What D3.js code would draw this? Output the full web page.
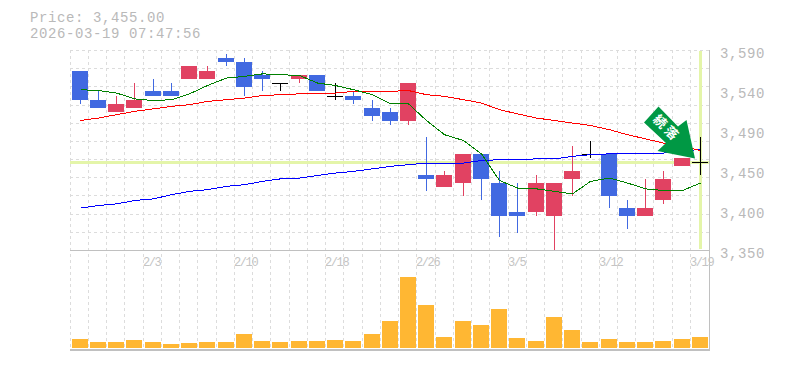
<!DOCTYPE html>
<html>
<head>
<meta charset="utf-8">
<script src="https://cdn.jsdelivr.net/npm/d3@7"></script>
<style>
  body { margin: 0; background: #fff; }
  text { font-family: "Liberation Mono", monospace; fill: #b9b9b9; }
</style>
</head>
<body>
<div id="chart"></div>
<script>
const dates = ["1/27","1/28","1/29","1/30","2/3","2/4","2/5","2/6","2/9","2/10","2/12","2/13","2/16","2/17","2/18","2/19","2/20","2/24","2/25","2/26","2/27","3/2","3/3","3/4","3/5","3/6","3/9","3/10","3/11","3/12","3/13","3/16","3/17","3/18","3/19"];
const tickDates = ["2/3","2/10","2/18","2/26","3/5","3/12","3/19"];

const open  = [3565,3530,3515,3520,3540,3540,3555,3555,3580,3575,3560,3550,3555,3560,3535,3535,3520,3515,3505,3440,3425,3430,3465,3430,3395,3395,3390,3435,3465,3465,3400,3390,3410,3450,3455];
const close = [3530,3520,3525,3530,3535,3535,3570,3565,3575,3545,3555,3550,3560,3540,3535,3530,3510,3505,3550,3435,3440,3465,3435,3390,3390,3430,3430,3445,3465,3415,3390,3400,3435,3460,3455];
const high  = [3565,3540,3535,3550,3555,3550,3570,3570,3585,3580,3565,3550,3560,3560,3550,3540,3530,3520,3550,3485,3445,3465,3465,3445,3430,3440,3430,3475,3480,3465,3410,3435,3445,3460,3485];
const low   = [3525,3520,3515,3520,3535,3535,3555,3555,3570,3535,3540,3540,3550,3540,3530,3525,3505,3500,3500,3420,3425,3415,3410,3365,3370,3390,3350,3415,3460,3400,3375,3390,3405,3450,3440];
const volume = [9,6,6,8,6,4,5,6,6,14,7,6,7,7,8,7,14,27,71,43,11,27,23,39,10,7,31,18,6,9,6,6,7,9,11];

const maShort = [3542,3541,3538,3531,3529,3530,3537,3547,3556,3558,3561,3560,3559,3550,3547,3542,3536,3525,3525,3505,3488,3481,3465,3433,3424,3423,3420,3417,3432,3436,3430,3423,3421,3421,3430];
const maMid   = [3505,3508,3512,3516,3519,3522,3524,3528,3530,3532,3535,3536,3537,3537,3538,3540,3540,3540,3541,3536,3534,3530,3526,3518,3513,3508,3505,3502,3499,3494,3488,3483,3478,3474,3469];
const maLong  = [3400,3403,3405,3409,3411,3416,3420,3422,3426,3428,3432,3435,3436,3439,3442,3444,3447,3450,3452,3454,3454,3454,3457,3458,3458,3459,3459,3462,3464,3465,3466,3466,3466,3469,3470];

const priceTicks = [3350,3398,3446,3494,3542,3590];
const priceLabels = ["3,350","3,400","3,450","3,490","3,540","3,590"];
const gridPrices = [3350,3371.8,3393.6,3415.5,3437.3,3459.1,3480.9,3502.7,3524.5,3546.4,3568.2,3590];
const currentPrice = 3455;

const width = 785, height = 370;
const svg = d3.select("#chart").append("svg")
    .attr("width", width)
    .attr("height", height)
    .style("display", "block");

const x = d3.scaleBand().domain(dates).range([70.5, 709]);
const y = d3.scaleLinear().domain([3350, 3590]).range([249.7, 49.7]);
const yVol = d3.scaleLinear().domain([0, 88]).range([348, 260]);
const cx = d => Math.round(x(d) + x.bandwidth() / 2) + 0.5;
const gx = d => Math.round(x(d) - 0.8) + 0.5;

// Title
svg.append("text").attr("x", 30).attr("y", 22).attr("font-size", 14).attr("letter-spacing", 0.6).text("Price: 3,455.00");
svg.append("text").attr("x", 30).attr("y", 38).attr("font-size", 14).attr("letter-spacing", 0.6).text("2026-03-19 07:47:56");

// Grid
const grid = svg.append("g")
    .attr("stroke", "#dcdcdc")
    .attr("stroke-dasharray", "3,3")
    .attr("shape-rendering", "crispEdges");
grid.selectAll("line.v").data(dates).join("line")
    .attr("class", "v")
    .attr("x1", gx).attr("x2", gx)
    .attr("y1", 50).attr("y2", 350);
grid.selectAll("line.h").data(gridPrices).join("line")
    .attr("class", "h")
    .attr("x1", 70).attr("x2", 709)
    .attr("y1", d => y(d) + 0.8).attr("y2", d => y(d) + 0.8);

// Current price and current date highlight
const hl = svg.append("g").attr("stroke", "#e4f5a9").attr("stroke-width", 3).attr("shape-rendering", "crispEdges");
hl.append("line").attr("x1", 70).attr("x2", 709).attr("y1", y(currentPrice)).attr("y2", y(currentPrice));
hl.append("line").attr("x1", cx(dates[34])).attr("x2", cx(dates[34])).attr("y1", 51).attr("y2", 249);

// Frame
const frame = svg.append("g").attr("stroke", "#c0c0c0").attr("shape-rendering", "crispEdges");
frame.append("line").attr("x1", 70).attr("x2", 710).attr("y1", 250.5).attr("y2", 250.5);
frame.append("line").attr("x1", 70).attr("x2", 710).attr("y1", 350).attr("y2", 350).attr("stroke-width", 2);
frame.append("line").attr("x1", 709.5).attr("x2", 709.5).attr("y1", 50).attr("y2", 351);

// Price axis
const yAxis = d3.axisRight(y).tickValues(priceTicks).tickSize(0).tickPadding(0)
    .tickFormat((d, i) => priceLabels[i]);
svg.append("g").attr("transform", "translate(720,3)").call(yAxis)
    .call(g => g.select(".domain").remove())
    .selectAll("text")
    .attr("font-size", 14).attr("letter-spacing", 0.6)
    .attr("font-family", "Liberation Mono");

// Date labels
svg.selectAll("text.date").data(tickDates).join("text")
    .attr("class", "date")
    .attr("x", d => gx(d) - 0.5)
    .attr("y", 266)
    .attr("font-size", 12)
    .attr("letter-spacing", -1.4)
    .style("fill", "#c4c4c4")
    .text(d => d);

// Volume
svg.append("g").attr("fill", "#ffb733").attr("shape-rendering", "crispEdges")
    .selectAll("rect").data(dates).join("rect")
    .attr("x", d => cx(d) - 8.5)
    .attr("width", 16)
    .attr("y", (d, i) => yVol(volume[i]))
    .attr("height", (d, i) => yVol(0) - yVol(volume[i]));

// Candles
const colorOf = i => close[i] > open[i] ? "#e14262" : close[i] < open[i] ? "#4169e1" : "#000";
const candles = svg.append("g").attr("shape-rendering", "crispEdges");
candles.selectAll("line.wick").data(dates).join("line")
    .attr("class", "wick")
    .attr("x1", cx).attr("x2", cx)
    .attr("y1", (d, i) => y(high[i]))
    .attr("y2", (d, i) => y(low[i]))
    .attr("stroke", (d, i) => colorOf(i));
candles.selectAll("rect.body").data(dates).join("rect")
    .attr("class", "body")
    .attr("x", d => cx(d) - 8.5)
    .attr("width", 16)
    .attr("y", (d, i) => y(Math.max(open[i], close[i])))
    .attr("height", (d, i) => Math.max(1, y(Math.min(open[i], close[i])) - y(Math.max(open[i], close[i]))))
    .attr("fill", (d, i) => colorOf(i));

// Moving averages
const line = d3.line().x(d => cx(d[0])).y(d => y(d[1]));
[[maLong, "#0000ff"], [maMid, "#ff0000"], [maShort, "#008000"]].forEach(([values, color]) => {
    svg.append("path")
        .datum(dates.map((d, i) => [d, values[i]]))
        .attr("fill", "none")
        .attr("stroke", color)
        .attr("stroke-width", 1)
        .attr("shape-rendering", "crispEdges")
        .attr("d", line);
});

// Signal arrow
const arrow = svg.append("g");
arrow.append("path")
    .attr("d", "M658.5,106.5 L644,122.5 L666,143 L657.5,151 L695,158.5 L686.5,120 L678,126.5 Z")
    .attr("fill", "#009844");
arrow.append("text")
    .attr("transform", "translate(666,129) rotate(45)")
    .attr("font-weight", "bold")
    .attr("font-size", 13)
    .attr("letter-spacing", 3)
    .attr("text-anchor", "middle")
    .attr("dominant-baseline", "middle")
    .style("font-family", "'Noto Sans CJK JP'")
    .style("fill", "#fff")
    .text("続落");
</script>
</body>
</html>
